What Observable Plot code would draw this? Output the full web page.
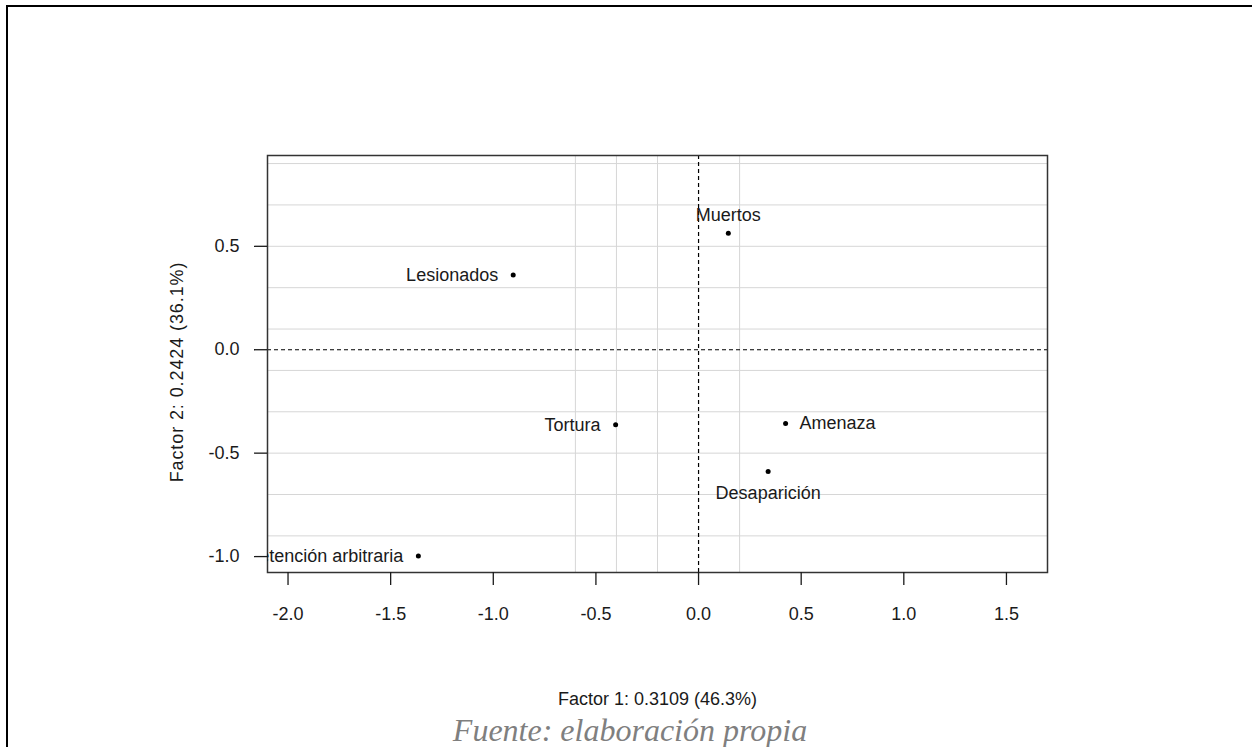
<!DOCTYPE html>
<html>
<head>
<meta charset="utf-8">
<script src="https://cdn.jsdelivr.net/npm/d3@7"></script>
<script src="https://cdn.jsdelivr.net/npm/@observablehq/plot@0.6"></script>
<style>
  html, body { margin: 0; padding: 0; background: white; }
  #wrap { position: relative; width: 1252px; height: 747px; overflow: hidden; background: white; }
  #border { position: absolute; left: 6px; top: 5px; right: -10px; bottom: -10px; border-top: 2px solid black; border-left: 2px solid black; pointer-events: none; }
  #caption { position: absolute; left: 0; width: 1260px; top: 714px; text-align: center; font-family: "Liberation Serif", "Times New Roman", serif; font-style: italic; font-size: 32px; color: #7f7f7f; line-height: 1; }
  .ylab text { letter-spacing: 0.9px; }
</style>
</head>
<body>
<div id="wrap">
  <div id="chart"></div>
  <div id="border"></div>
  <div id="caption">Fuente: elaboración propia</div>
</div>
<script>
// Data (correspondence analysis coordinates)
const categories = ["Muertos", "Lesionados", "Tortura", "Detención arbitraria", "Amenaza", "Desaparición"];
const factor1 = [0.145, -0.903, -0.404, -1.365, 0.424, 0.339];
const factor2 = [0.563, 0.361, -0.363, -0.997, -0.357, -0.589];

const xTicks = [-2.0, -1.5, -1.0, -0.5, 0.0, 0.5, 1.0, 1.5];
const xTickLabels = ["-2.0", "-1.5", "-1.0", "-0.5", "0.0", "0.5", "1.0", "1.5"];
const yTicks = [-1.0, -0.5, 0.0, 0.5];
const yTickLabels = ["-1.0", "-0.5", "0.0", "0.5"];

const gridX = [-0.6, -0.4, -0.2, 0.2];
const gridY = [-0.9, -0.7, -0.5, -0.3, -0.1, 0.1, 0.3, 0.5, 0.7, 0.9];

const xLabel = "Factor 1: 0.3109 (46.3%)";
const yLabel = "Factor 2: 0.2424 (36.1%)";

const points = categories.map((c, i) => ({name: c, x: factor1[i], y: factor2[i]}));

const leftLabels = ["Lesionados", "Tortura", "Detención arbitraria"];
const rightLabels = ["Amenaza"];
const topLabels = ["Muertos"];
const bottomLabels = ["Desaparición"];

const txt = "#1a1a1a";

const chart = Plot.plot({
  width: 1252,
  height: 747,
  marginLeft: 267,
  marginRight: 205,
  marginTop: 155,
  marginBottom: 175,
  x: {domain: [-2.1, 1.7]},
  y: {domain: [-1.077, 0.939]},
  style: {fontFamily: "'Liberation Sans', Arial, sans-serif", fontSize: "18px", background: "white", color: txt, overflow: "visible"},
  marks: [
    Plot.ruleX(gridX, {stroke: "#d6d6d6", strokeWidth: 1}),
    Plot.ruleY(gridY, {stroke: "#d6d6d6", strokeWidth: 1}),
    Plot.ruleX([0], {stroke: "black", strokeWidth: 1.2, strokeDasharray: "4,3"}),
    Plot.ruleY([0], {stroke: "black", strokeWidth: 1.2, strokeDasharray: "4,3"}),
    Plot.frame({stroke: "#333", strokeWidth: 1.5}),
    Plot.axisX(xTicks, {
      tickSize: 13, tickPadding: 22, strokeWidth: 1.3,
      tickFormat: (d, i) => xTickLabels[i],
      label: null
    }),
    Plot.axisY(yTicks, {
      tickSize: 13, tickPadding: 15, strokeWidth: 1.3,
      tickFormat: (d, i) => yTickLabels[i],
      label: null
    }),
    Plot.text([xLabel], {frameAnchor: "bottom", text: d => d, dy: 127, lineAnchor: "middle", textAnchor: "middle", fill: txt}),
    Plot.text([yLabel], {frameAnchor: "left", text: d => d, rotate: -90, dx: -90, dy: 8, textAnchor: "middle", lineAnchor: "middle", fill: txt, className: "ylab"}),
    Plot.dot(points, {x: "x", y: "y", r: 2.5, fill: "black"}),
    Plot.text(points.filter(d => leftLabels.includes(d.name)), {x: "x", y: "y", text: "name", textAnchor: "end", dx: -15, fill: txt, clip: true}),
    Plot.text(points.filter(d => rightLabels.includes(d.name)), {x: "x", y: "y", text: "name", textAnchor: "start", dx: 14, fill: txt, clip: true}),
    Plot.text(points.filter(d => topLabels.includes(d.name)), {x: "x", y: "y", text: "name", dy: -18, fill: txt, clip: true}),
    Plot.text(points.filter(d => bottomLabels.includes(d.name)), {x: "x", y: "y", text: "name", dy: 22, fill: txt, clip: true})
  ]
});
document.getElementById("chart").appendChild(chart);
</script>
</body>
</html>
